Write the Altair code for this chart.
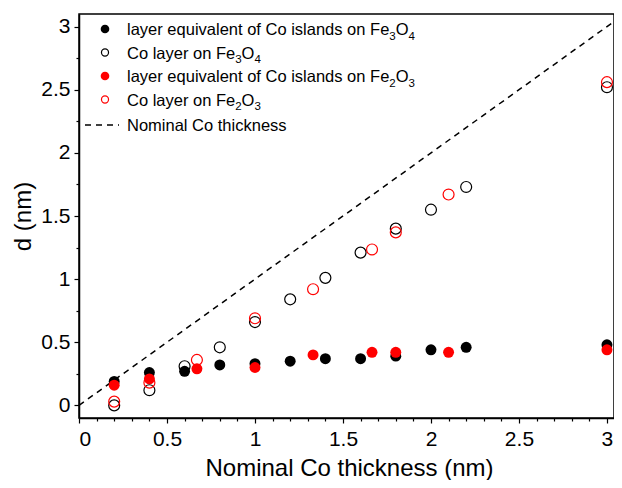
import altair as alt
import pandas as pd

# ---- data ----
x_fe3o4 = [0.2, 0.4, 0.6, 0.8, 1.0, 1.2, 1.4, 1.6, 1.8, 2.0, 2.2, 3.0]
islands_fe3o4 = [0.19, 0.26, 0.27, 0.32, 0.33, 0.35, 0.37, 0.37, 0.39, 0.44, 0.46, 0.48]
layer_fe3o4 = [0.0, 0.12, 0.31, 0.46, 0.66, 0.84, 1.01, 1.21, 1.40, 1.55, 1.73, 2.52]

x_fe2o3 = [0.2, 0.4, 0.67, 1.0, 1.33, 1.665, 1.8, 2.1, 3.0]
islands_fe2o3 = [0.16, 0.21, 0.29, 0.30, 0.40, 0.42, 0.42, 0.42, 0.44]
layer_fe2o3 = [0.03, 0.18, 0.36, 0.69, 0.92, 1.235, 1.37, 1.67, 2.56]

# legend labels as (text, is_subscript) runs
legend_labels = [
    [("layer equivalent of Co islands on Fe", False), ("3", True), ("O", False), ("4", True)],
    [("Co layer on Fe", False), ("3", True), ("O", False), ("4", True)],
    [("layer equivalent of Co islands on Fe", False), ("2", True), ("O", False), ("3", True)],
    [("Co layer on Fe", False), ("2", True), ("O", False), ("3", True)],
    [("Nominal Co thickness", False)],
]

x_major = [0, 0.5, 1, 1.5, 2, 2.5, 3]
x_minor = [round(i * 0.1, 1) for i in range(31) if i % 5 != 0]
y_major = [0, 0.5, 1, 1.5, 2, 2.5, 3]
y_minor = [0.25, 0.75, 1.25, 1.75, 2.25, 2.75]

FONT = "Liberation Sans"
W, H = 535, 404
XDOM = [0, 3.04]
YDOM = [-0.1, 3.1]
nominal_x = XDOM

xs = alt.Scale(domain=XDOM, nice=False, zero=False)
ys = alt.Scale(domain=YDOM, nice=False, zero=False)

common = dict(grid=False, domainColor="black", tickColor="black", labelColor="black",
              titleColor="black", labelFont=FONT, titleFont=FONT, titleFontWeight="normal",
              domainWidth=1.5, tickWidth=1.2, tickSize=5, labelFontSize=21, titleFontSize=24)
x_axis = alt.Axis(values=x_major, format="~g", title="Nominal Co thickness (nm)",
                  labelPadding=5, orient="bottom",
                  titleBaseline="alphabetic", titleX=270, titleY=57, **common)
y_axis = alt.Axis(values=y_major, format="~g", title="d (nm)",
                  labelPadding=4, orient="left",
                  titleBaseline="alphabetic", titleX=-49, titleY=H / 2, titleAngle=270,
                  **common)
x_axis_minor = alt.Axis(values=x_minor, labels=False, title=None, tickSize=3, domain=False,
                        grid=False, tickColor="black", orient="bottom", tickWidth=1.2)
y_axis_minor = alt.Axis(values=y_minor, labels=False, title=None, tickSize=3, domain=False,
                        grid=False, tickColor="black", orient="left", tickWidth=1.2)

df_b = pd.DataFrame({"x": x_fe3o4, "isl": islands_fe3o4, "lay": layer_fe3o4})
df_r = pd.DataFrame({"x": x_fe2o3, "isl": islands_fe2o3, "lay": layer_fe2o3})
df_n = pd.DataFrame({"x": nominal_x, "y": nominal_x})

SIZE = 120

nominal = alt.Chart(df_n).mark_line(color="black", strokeDash=[6, 5], strokeWidth=1.5).encode(
    x=alt.X("x:Q", scale=xs, axis=x_axis),
    y=alt.Y("y:Q", scale=ys, axis=y_axis),
)

minor_axes = alt.Chart(df_n).mark_point(opacity=0).encode(
    x=alt.X("x:Q", scale=xs, axis=x_axis_minor),
    y=alt.Y("y:Q", scale=ys, axis=y_axis_minor),
)

def pts(df, col, color, filled):
    if filled:
        m = alt.Chart(df).mark_circle(color=color, size=SIZE, opacity=1)
    else:
        m = alt.Chart(df).mark_point(shape="circle", filled=False, color=color, size=SIZE,
                                     strokeWidth=1.2, opacity=1)
    return m.encode(x=alt.X("x:Q", scale=xs, axis=None),
                    y=alt.Y(f"{col}:Q", scale=ys, axis=None))

b_fill = pts(df_b, "isl", "black", True)
b_open = pts(df_b, "lay", "black", False)
r_fill = pts(df_r, "isl", "#ff0000", True)
r_open = pts(df_r, "lay", "#ff0000", False)

# ---- manual legend (layout positions in plot pixels) ----
# Arial / Liberation Sans advance widths (per 1000 em) for text layout of runs
ARIAL = {" ": 278, "a": 556, "c": 500, "d": 556, "e": 556, "f": 278, "h": 556, "i": 222,
         "k": 500, "l": 222, "m": 833, "n": 556, "o": 556, "q": 556, "r": 333, "s": 500,
         "t": 278, "u": 556, "v": 500, "y": 500, "C": 722, "F": 611, "N": 722, "O": 778,
         "2": 556, "3": 556, "4": 556}

def text_w(s, fs):
    return sum(ARIAL.get(ch, 556) for ch in s) * fs / 1000.0

LEG_FS = 16.5
SUB_FS = 11.5
SUB_DY = 4.5
LEG_FILLED_SIZE = 75
LEG_OPEN_SIZE = 50
leg_sym_x = 26
leg_txt_x = 48
leg_rows = [15, 38.5, 62, 85.5, 111]
leg_styles = [("black", True), ("black", False), ("#ff0000", True), ("#ff0000", False), None]
legend_layers = []
one = pd.DataFrame({"a": [0]})
for runs, yy, sty in zip(legend_labels, leg_rows, leg_styles):
    if sty is None:
        legend_layers.append(alt.Chart(one).mark_rule(color="black", strokeDash=[6, 5],
                                                      strokeWidth=1.5).encode(
            x=alt.value(6), x2=alt.value(40), y=alt.value(yy)))
    else:
        col, filled = sty
        if filled:
            mk = alt.Chart(one).mark_circle(color=col, size=LEG_FILLED_SIZE, opacity=1)
        else:
            mk = alt.Chart(one).mark_point(shape="circle", filled=False, color=col,
                                           size=LEG_OPEN_SIZE, strokeWidth=1.2, opacity=1)
        legend_layers.append(mk.encode(x=alt.value(leg_sym_x), y=alt.value(yy)))
    cx = leg_txt_x
    for txt, sub in runs:
        fs = SUB_FS if sub else LEG_FS
        legend_layers.append(alt.Chart(one).mark_text(
            text=txt, align="left", baseline="alphabetic", font=FONT, fontSize=fs,
            color="black").encode(x=alt.value(cx), y=alt.value(yy + 6 + (SUB_DY if sub else 0))))
        cx += text_w(txt, fs)

chart = alt.layer(nominal, minor_axes, b_fill, b_open, r_fill, r_open, *legend_layers).resolve_axis(
    x="independent", y="independent"
).properties(
    width=W, height=H,
    autosize=alt.AutoSizeParams(type="none"),
    padding={"left": 71, "top": 6, "right": 0, "bottom": 62},
).configure_view(stroke="black", strokeWidth=1.5)

chart.save("out.html", embed_options={"renderer": "svg", "actions": False})
